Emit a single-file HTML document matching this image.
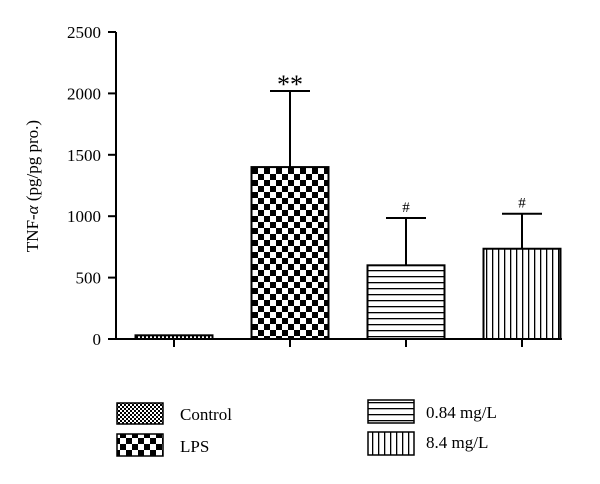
<!DOCTYPE html>
<html><head><meta charset="utf-8"><style>
body{margin:0;background:#fff;}
svg text{font-family:"Liberation Serif",serif;fill:#000;}
</style></head><body>
<svg width="600" height="479" viewBox="0 0 600 479">
<defs>
<pattern id="pCtrl" width="4" height="4" patternUnits="userSpaceOnUse"><rect width="4" height="4" fill="#fff"/><rect width="2" height="2" fill="#000"/><rect x="2" y="2" width="2" height="2" fill="#000"/></pattern>
<pattern id="pLps" width="12" height="12" patternUnits="userSpaceOnUse"><rect width="12" height="12" fill="#fff"/><rect width="6" height="6" fill="#000"/><rect x="6" y="6" width="6" height="6" fill="#000"/></pattern>
<pattern id="pH" width="6" height="6" patternUnits="userSpaceOnUse"><rect width="6" height="6" fill="#fff"/><rect y="0" width="6" height="1.3" fill="#000"/></pattern>
<pattern id="pV" width="6" height="6" patternUnits="userSpaceOnUse"><rect width="6" height="6" fill="#fff"/><rect x="0" width="1.3" height="6" fill="#000"/></pattern>
</defs>
<g id="plot"></g>
<text transform="translate(38,186) rotate(-90)" text-anchor="middle" font-size="17">TNF-<tspan font-style="italic">α</tspan> (pg/pg pro.)</text>
<g>
<rect x="117" y="403" width="46" height="21" fill="url(#pCtrl)" stroke="#000" stroke-width="1.5"/>
<text x="180" y="420" font-size="17">Control</text>
<rect x="117" y="434" width="46" height="22" fill="url(#pLps)" stroke="#000" stroke-width="1.5"/>
<text x="180" y="452" font-size="17">LPS</text>
<rect x="368" y="400" width="46" height="23" fill="url(#pH)" stroke="#000" stroke-width="1.5"/>
<text x="426" y="418" font-size="17">0.84 mg/L</text>
<rect x="368" y="432" width="46" height="23" fill="url(#pV)" stroke="#000" stroke-width="1.5"/>
<text x="426" y="448" font-size="17">8.4 mg/L</text>
</g>
</svg>
<script>
const categories=["Control","LPS","0.84 mg/L","8.4 mg/L"];
const values=[30,1400,600,735];
const errors=[0,620,385,285];
const annotations=["","**","#","#"];
const yTicks=[0,500,1000,1500,2000,2500];
const fills=["url(#pCtrl)","url(#pLps)","url(#pH)","url(#pV)"];
const NS="http://www.w3.org/2000/svg";
const g=document.getElementById("plot");
const y=v=>339-v*(307/2500);
const x=i=>174+i*116;
const bw=77;
function mk(t,a){const e=document.createElementNS(NS,t);for(const k in a)e.setAttribute(k,a[k]);g.appendChild(e);return e;}
let e=mk("line",{x1:116,y1:32,x2:116,y2:340,stroke:"#000","stroke-width":2});


e=mk("line",{x1:115,y1:339,x2:562,y2:339,stroke:"#000","stroke-width":2});


yTicks.forEach(t=>{
 let l=mk("line",{x1:108,y1:y(t),x2:116,y2:y(t),stroke:"#000","stroke-width":2});
 
 
 let tx=mk("text",{x:101,y:y(t)+6,"text-anchor":"end","font-size":17});
 tx.textContent=t;
 
 
});
categories.forEach((c,i)=>{
 const cx=x(i),top=y(values[i]);
 if(errors[i]>0){
  let el=mk("line",{x1:cx,y1:y(values[i]+errors[i]),x2:cx,y2:top,stroke:"#000","stroke-width":2});
  
  
  let cap=mk("line",{x1:cx-20,y1:y(values[i]+errors[i]),x2:cx+20,y2:y(values[i]+errors[i]),stroke:"#000","stroke-width":2});
  
  
 }
 let r=mk("rect",{x:cx-bw/2,y:top,width:bw,height:339-top,fill:fills[i],stroke:"#000","stroke-width":2});
 
 
 let tk=mk("line",{x1:cx,y1:339,x2:cx,y2:347,stroke:"#000","stroke-width":2});
 
 
 if(annotations[i]){
  let a=mk("text",{x:cx,y:y(values[i]+errors[i])-(annotations[i]=="**"?-2:6),"text-anchor":"middle","font-size":annotations[i]=="**"?26:15});
  a.textContent=annotations[i];
  
  
 }
});
</script>
</body></html>
